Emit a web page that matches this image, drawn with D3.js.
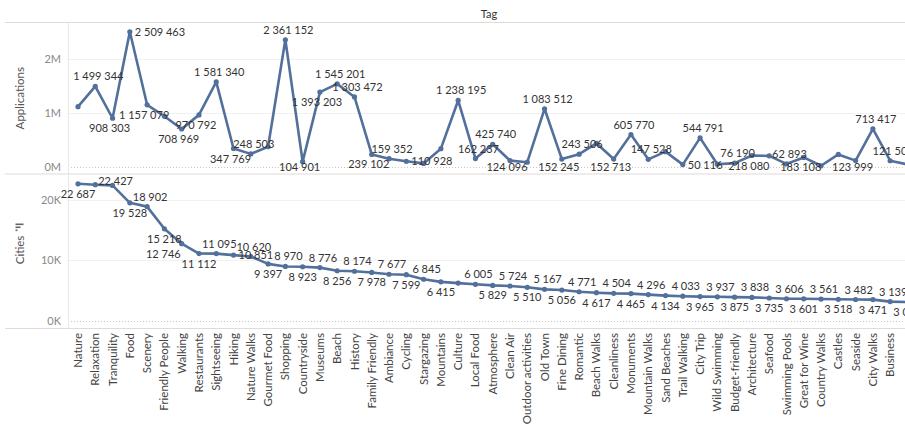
<!DOCTYPE html>
<html lang="en">
<head>
<meta charset="UTF-8">
<title>Tag</title>
<script src="https://cdn.jsdelivr.net/npm/d3@7"></script>
<style>
  body { margin: 0; background: #fff; }
  text { font-family: Lato, "Open Sans", sans-serif; }
</style>
</head>
<body>
<div id="chart"></div>
<script>
// data
var tags = ["Nature", "Relaxation", "Tranquility", "Food", "Scenery", "Friendly People", "Walking",
  "Restaurants", "Sightseeing", "Hiking", "Nature Walks", "Gourmet Food", "Shopping", "Countryside",
  "Museums", "Beach", "History", "Family Friendly", "Ambiance", "Cycling", "Stargazing", "Mountains",
  "Culture", "Local Food", "Atmosphere", "Clean Air", "Outdoor activities", "Old Town", "Fine Dining",
  "Romantic", "Beach Walks", "Cleanliness", "Monuments", "Mountain Walks", "Sand Beaches",
  "Trail Walking", "City Trip", "Wild Swimming", "Budget-friendly", "Architecture", "Seafood",
  "Swimming Pools", "Great for Wine", "Country Walks", "Castles", "Seaside", "City Walks", "Business",
  "Wellness"];

var applications = [1122000, 1499344, 908303, 2509463, 1157079, 945000, 708969, 970792, 1581340,
  347769, 248503, 381000, 2361152, 104901, 1393203, 1545201, 1303472, 239102, 159352, 110928,
  72000, 345000, 1238195, 162237, 425740, 124096, 95000, 1083512, 152245, 243506, 444000, 152713,
  605770, 147528, 290000, 50116, 544791, 58000, 76190, 218080, 212000, 62893, 183108, 28000,
  238000, 123999, 713417, 121500, 55000];

var cities = [22687, 22540, 22427, 19528, 18902, 15218, 12746, 11112, 11095, 10851, 10620, 9397,
  8970, 8923, 8776, 8256, 8174, 7978, 7677, 7599, 6845, 6415, 6210, 6005, 5829, 5724, 5510, 5167,
  5056, 4771, 4617, 4504, 4465, 4296, 4134, 4033, 3965, 3937, 3875, 3838, 3735, 3606, 3601, 3561,
  3518, 3482, 3471, 3139, 3050];

// which marks carry a value label (1) in the picture
var appsShown = [0,1,1,1,1,0,1,1,1,1, 1,0,1,1,1,1,1,1,1,1, 0,0,1,1,1,1,0,1,1,1,
  0,1,1,1,0,1,1,0,1,1, 0,1,1,0,0,1,1,1,0];
var citiesShown = [1,0,1,1,1,1,1,1,1,1, 1,1,1,1,1,1,1,1,1,1, 1,1,0,1,1,1,1,1,1,1,
  1,1,1,1,1,1,1,1,1,1, 1,1,1,1,1,1,1,1,1];

var appTicks = [0, 1000000, 2000000];
var appTickText = ["0M", "1M", "2M"];
var cityTicks = [0, 10000, 20000];
var cityTickText = ["0K", "10K", "20K"];

var w = 905, h = 426;
var paneLeft = 68;
var topPane = [22.5, 174];
var botPane = [174, 328.5];
var lineColor = "#52709b";
var borderColor = "#e2d9d9";

var svg = d3.select("#chart").append("svg")
  .attr("width", w)
  .attr("height", h);

svg.append("rect").attr("width", w).attr("height", h).attr("fill", "#fff");

var x = d3.scalePoint()
  .domain(tags)
  .range([78, 78 + (tags.length - 1) * 17.28]);

var yApps = d3.scaleLinear().domain([0, 2000000]).range([167.3, 59.3]);
var yCities = d3.scaleLinear().domain([0, 20000]).range([320.5, 200]);

var fmt = function(v) { return d3.format(",d")(v).replace(/,/g, " "); };

// grid lines
function grid(scale, ticks) {
  svg.append("g").selectAll("line")
    .data(ticks)
    .enter()
    .append("line")
    .attr("x1", paneLeft)
    .attr("x2", w)
    .attr("y1", function(d) { return Math.round(scale(d)) + 0.5; })
    .attr("y2", function(d) { return Math.round(scale(d)) + 0.5; })
    .attr("stroke", function(d) { return d == 0 ? "#c8c8c8" : "#f1f1f1"; })
    .attr("stroke-dasharray", function(d) { return d == 0 ? "1,2" : null; });
}
grid(yApps, appTicks);
grid(yCities, cityTicks);

// pane borders
[topPane[0], topPane[1], botPane[1]].forEach(function(yy) {
  svg.append("line")
    .attr("x1", 5).attr("x2", w)
    .attr("y1", yy).attr("y2", yy)
    .attr("stroke", borderColor);
});
svg.append("line")
  .attr("x1", paneLeft + 0.5).attr("x2", paneLeft + 0.5)
  .attr("y1", topPane[0]).attr("y2", botPane[1])
  .attr("stroke", "#ece6e6");

// axes (tick labels only, tableau style)
function yAxis(scale, ticks, text) {
  var ax = d3.axisLeft(scale)
    .tickValues(ticks)
    .tickSize(0)
    .tickPadding(6)
    .tickFormat(function(d, i) { return text[i]; });
  var g = svg.append("g")
    .attr("transform", "translate(" + (paneLeft - 1) + ",0)")
    .call(ax);
  g.select(".domain").remove();
  g.selectAll("text")
    .attr("font-size", "11px")
    .attr("fill", "#888")
    .style("font-family", "Lato, sans-serif");
}
yAxis(yApps, appTicks, appTickText);
yAxis(yCities, cityTicks, cityTickText);

// axis titles
svg.append("text")
  .attr("transform", "translate(24," + ((topPane[0] + topPane[1]) / 2) + ") rotate(-90)")
  .attr("text-anchor", "middle")
  .attr("font-size", "11.5px")
  .attr("fill", "#555")
  .text("Applications");

svg.append("text")
  .attr("transform", "translate(24,250) rotate(-90)")
  .attr("text-anchor", "middle")
  .attr("font-size", "11.5px")
  .attr("fill", "#555")
  .text("Cities");

// little sort icon above "Cities"
var sortIcon = [8, 5, 2];
svg.append("g").selectAll("rect")
  .data(sortIcon)
  .enter()
  .append("rect")
  .attr("x", 15.5)
  .attr("y", function(d, i) { return 223.5 + i * 3; })
  .attr("width", function(d) { return d; })
  .attr("height", 1.6)
  .attr("fill", "#666");

// header
svg.append("text")
  .attr("x", 489)
  .attr("y", 18)
  .attr("text-anchor", "middle")
  .attr("font-size", "11px")
  .attr("fill", "#333")
  .text("Tag");

// category labels (a label that would only show a sliver at the edge is left out, as tableau does)
svg.append("g").selectAll("text")
  .data(tags.filter(function(d) { return x(d) + 4 < w; }))
  .enter()
  .append("text")
  .attr("transform", function(d) { return "translate(" + x(d) + ",333) rotate(-90)"; })
  .attr("text-anchor", "end")
  .attr("dy", "0.35em")
  .attr("font-size", "11.5px")
  .attr("fill", "#444")
  .text(function(d) { return d; });

// lines + markers
function series(values, scale) {
  var pts = tags.map(function(t, i) { return { tag: t, v: values[i], i: i }; });
  var line = d3.line()
    .x(function(d) { return x(d.tag); })
    .y(function(d) { return scale(d.v); });
  svg.append("path")
    .datum(pts)
    .attr("d", line)
    .attr("fill", "none")
    .attr("stroke", lineColor)
    .attr("stroke-width", 2.6)
    .attr("stroke-linejoin", "round");
  svg.append("g").selectAll("circle")
    .data(pts)
    .enter()
    .append("circle")
    .attr("cx", function(d) { return x(d.tag); })
    .attr("cy", function(d) { return scale(d.v); })
    .attr("r", 2.6)
    .attr("fill", lineColor);
  return pts;
}

var appPts = series(applications, yApps);
var cityPts = series(cities, yCities);

// value labels: try the preferred spots in order, keep them inside the pane and off each other
function labels(pts, scale, shown, pane, opt, prefer) {
  var placed = [];
  var g = svg.append("g");
  var k = 0;
  pts.forEach(function(d, i) {
    if (!shown[i]) return;
    var px = x(d.tag), py = scale(d.v);
    var t = g.append("text")
      .attr("text-anchor", "middle")
      .attr("font-size", "11px")
      .attr("fill", "#333")
      .text(fmt(d.v));
    var tw = t.node().getComputedTextLength();
    var lo = pane[0] + 1, hi = pane[1] - 13;
    var ya = Math.max(py - 16, lo), yb = Math.min(py + 4, hi), ys = Math.min(Math.max(py - 6, lo), hi);
    var spots = {
      above: { x: px - tw / 2 + 3, y: ya, ok: ya <= py - 9 },
      below: { x: px - tw / 2 + opt.shift, y: yb, ok: yb >= py - 3 },
      belowLeft: { x: px - tw - 1, y: yb, ok: yb >= py - 3 },
      right: { x: px + 5, y: ys, ok: true },
      left: { x: px - 5 - tw, y: ys, ok: true }
    };
    var order = prefer(pts, i, k);
    k++;
    var pick = null;
    order.forEach(function(name) {
      if (pick) return;
      var s = spots[name];
      if (!s.ok) return;
      var hit = placed.some(function(p) {
        return s.x < p.x + p.w + opt.pad && s.x + tw + opt.pad > p.x &&
          s.y < p.y + opt.lh && s.y + opt.lh > p.y;
      });
      if (!hit) pick = s;
    });
    if (!pick) pick = spots[order[0]].ok ? spots[order[0]] : spots[order[1]];
    placed.push({ x: pick.x, y: pick.y, w: tw });
    t.attr("x", pick.x + tw / 2).attr("y", pick.y + 10);
  });
}

labels(appPts, yApps, appsShown, topPane, { pad: 3, lh: 10, shift: -3 }, function(pts, i) {
  var prev = pts[Math.max(0, i - 1)].v, next = pts[Math.min(pts.length - 1, i + 1)].v;
  if (pts[i].v >= Math.max(prev, next)) return ["above", "right", "left", "below"];
  return ["below", "above", "right", "left"];
});
labels(cityPts, yCities, citiesShown, botPane, { pad: 0, lh: 12, shift: 0 }, function(pts, i, k) {
  return k % 2 == 0 ? ["below", "belowLeft", "above", "left", "right"]
                    : ["above", "belowLeft", "below", "right", "left"];
});
</script>
</body>
</html>
